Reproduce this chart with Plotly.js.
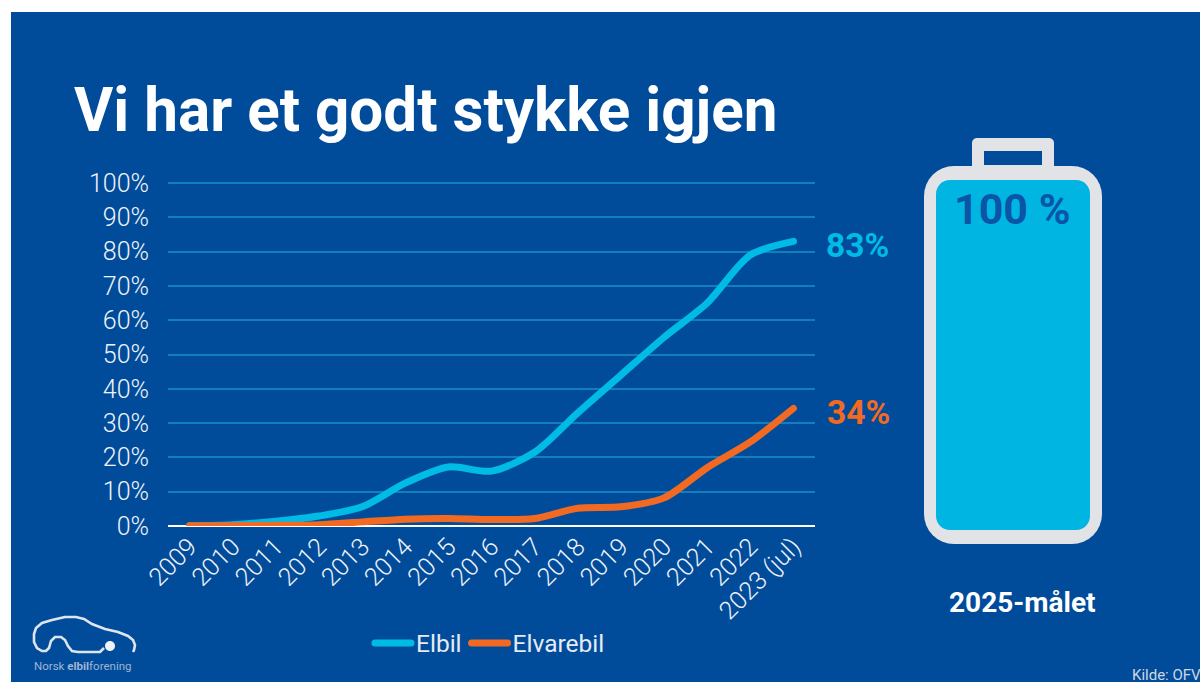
<!DOCTYPE html>
<html>
<head>
<meta charset="utf-8">
<script src="https://cdn.plot.ly/plotly-3.0.1.min.js"></script>
<style>html,body{margin:0;padding:0;background:#fff;overflow:hidden}#c{width:1200px;height:682px}
.js-line{stroke-linecap:round !important;stroke-linejoin:round !important}</style>
</head>
<body>
<div id="c"></div>
<script>
const years = ["2009","2010","2011","2012","2013","2014","2015","2016","2017","2018","2019","2020","2021","2022","2023 (jul)"];
const elbil = [0.1,0.4,1.4,2.9,5.6,12.5,17.2,16,21.5,33,44,55,65,79,83];
const elvarebil = [0.1,0.1,0.2,0.4,1.2,2,2.2,1.9,2.2,5.2,5.6,8.2,17,24.5,34.3];
const yTicks = [0,10,20,30,40,50,60,70,80,90,100];
const W = 1200, H = 682;
const BG = "#004c9b", CY = "#00b5e2", LINECY = "#00bbe6", OR = "#f26a21", GR = "#e1e3e6";
const px = x => x / W, py = y => 1 - y / H;
function rrect(x0, y0, x1, y1, r) {
  const X = v => px(v), Y = v => py(v);
  const c = (cx, cy, a0) => {
    let s = "";
    for (let i = 0; i <= 8; i++) {
      const a = a0 + i * Math.PI / 16;
      s += " L" + X(cx + r * Math.cos(a)) + "," + Y(cy + r * Math.sin(a));
    }
    return s;
  };
  return "M" + X(x0 + r) + "," + Y(y0) + " L" + X(x1 - r) + "," + Y(y0) +
    c(x1 - r, y0 + r, -Math.PI / 2) + c(x1 - r, y1 - r, 0) + c(x0 + r, y1 - r, Math.PI / 2) + c(x0 + r, y0 + r, Math.PI) + " Z";
}
function logoPath(pts) {
  return "M" + pts.map(p => px(p[0]) + "," + py(p[1])).join(" L");
}
const fill = (path, color) => ({type:"path", xref:"paper", yref:"paper", path, fillcolor:color, line:{width:0}, layer:"below"});
const logoLine = pts => ({type:"path", xref:"paper", yref:"paper", path:logoPath(pts), line:{color:"#dfe5ee", width:2.6}, layer:"below"});
const shapes = [
  fill(rrect(11, 12, 1240, 720, 0), BG),
  fill(rrect(972, 138, 1054, 175, 5), GR),
  fill(rrect(984, 151, 1042, 165, 0), BG),
  fill(rrect(924, 166, 1102, 544, 30), GR),
  fill(rrect(936, 180, 1090, 530, 14), CY),
  logoLine([[133,652],[134,650],[135,645],[133,640],[128,636],[118,632],[105,629],[92,624],[84,619],[76,617],[65,617],[52,620],[42,623],[36,628],[34,634],[34,642],[37,648],[42,651],[46,651],[49,648],[51,641],[55,637],[61,637],[65,640],[68,646],[72,651],[78,652],[100,652],[104,648]]),
  fill(rrect(105, 641, 115, 651, 5), "#f0f2f5")
];
const annotations = [
  {text:"<b>Vi har et godt stykke igjen</b>", x:px(73), y:py(111), xanchor:"left", yanchor:"middle", font:{family:"Roboto", size:60.2, color:"#ffffff"}},
  {text:"<b>83%</b>", x:px(825), y:py(245), xanchor:"left", yanchor:"middle", font:{family:"Roboto", size:33.5, color:LINECY}},
  {text:"<b>34%</b>", x:px(826), y:py(412), xanchor:"left", yanchor:"middle", font:{family:"Roboto", size:33.5, color:OR}},
  {text:"<b>100 %</b>", x:px(1012), y:py(209), xanchor:"center", yanchor:"middle", font:{family:"Roboto", size:43, color:"#0a55a8"}},
  {text:"<b>2025-målet</b>", x:px(1022.5), y:py(602), xanchor:"center", yanchor:"middle", font:{family:"Roboto", size:28, color:"#ffffff"}},
  {text:"Kilde: OFV", x:px(1131), y:py(675), xanchor:"left", yanchor:"middle", font:{family:"Roboto", size:15, color:"#cfd6e2"}},
  {text:"Norsk <b>elbil</b>forening", x:px(33), y:py(666), xanchor:"left", yanchor:"middle", font:{family:"Roboto", size:11.5, color:"#9fb4d2"}}
].map(a => Object.assign({xref:"paper", yref:"paper", showarrow:false, borderpad:0}, a));
const traces = [
  {name:"Elbil", x:years, y:elbil, mode:"lines", line:{color:LINECY, width:7, shape:"spline", smoothing:0.8}},
  {name:"Elvarebil", x:years, y:elvarebil, mode:"lines", line:{color:OR, width:7, shape:"spline", smoothing:0.8}}
];
const tickFont = {family:"Roboto", size:25, color:"#f0f3f8", weight:300};
const layout = {
  width:W, height:H,
  margin:{l:0, r:0, t:0, b:0},
  paper_bgcolor:"#ffffff", plot_bgcolor:"rgba(0,0,0,0)",
  font:{family:"Roboto", color:"#e6ebf3"},
  title:{text:""},
  showlegend:true,
  legend:{orientation:"h", x:px(490), y:py(643), xanchor:"center", yanchor:"middle", bgcolor:"rgba(0,0,0,0)", font:{family:"Roboto", size:24.5, color:"#e6ebf3"}, itemwidth:36, traceorder:"normal"},
  xaxis:{domain:[px(168), px(815)], type:"category", range:[-0.5,14.5], tickangle:-45, showgrid:false, zeroline:false, showline:false, ticks:"", tickfont:tickFont, categoryorder:"array", categoryarray:years},
  yaxis:{domain:[py(526), py(181.3)], range:[0,100.5], tickvals:yTicks, ticktext:yTicks.map(v => v + "%"), showgrid:true, gridcolor:"#0f7fbe", gridwidth:2, zeroline:true, zerolinecolor:"#ffffff", zerolinewidth:2, showline:false, ticks:"", tickfont:tickFont, ticklabelstandoff:18, automargin:false},
  shapes, annotations
};
Plotly.newPlot("c", traces, layout, {displayModeBar:false, staticPlot:true});
</script>
</body>
</html>
